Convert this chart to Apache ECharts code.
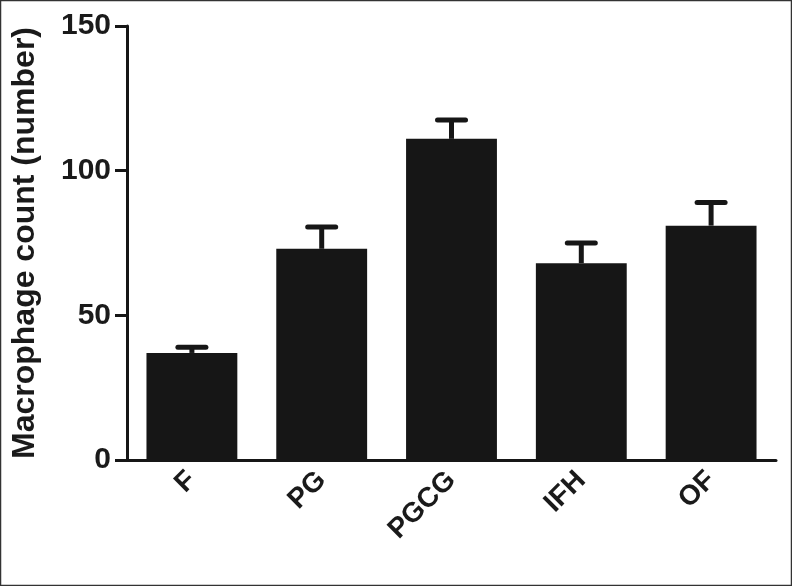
<!DOCTYPE html>
<html>
<head>
<meta charset="utf-8">
<script src="https://cdn.jsdelivr.net/npm/echarts@6/dist/echarts.min.js"></script>
<style>
  html, body { margin: 0; padding: 0; background: #fff; }
  #main { width: 792px; height: 586px; }
</style>
</head>
<body>
<div id="main"></div>
<script>
// groups on the x axis
var groups = ['F', 'PG', 'PGCG', 'IFH', 'OF'];
// mean macrophage count per group
var means = [37, 73, 111, 68, 81];
// upper error (SEM) per group
var errs = [2, 7.5, 6.5, 7, 8];
// y axis ticks
var yTicks = [0, 50, 100, 150];

var ink = '#161616';
var font = 'Liberation Sans, Arial, sans-serif';

var chart = echarts.init(document.getElementById('main'));

// error bar data: [index, mean, mean + err]
var errData = groups.map(function (g, i) {
  return [i, means[i], means[i] + errs[i]];
});

var option = {
  backgroundColor: '#fff',
  animation: false,
  grid: { left: 127, right: 16, top: 26, bottom: 126 },
  // thin frame round the whole picture
  graphic: [{
    type: 'rect',
    shape: { x: 0.5, y: 0.5, width: 791, height: 585 },
    style: { fill: 'none', stroke: '#333', lineWidth: 1.5 },
    silent: true
  }],
  xAxis: {
    type: 'category',
    data: groups,
    axisLine: { lineStyle: { color: ink, width: 3 } },
    axisTick: { alignWithLabel: true, length: 12, lineStyle: { color: ink, width: 3 } },
    axisLabel: {
      rotate: 45, margin: 16, color: '#1a1a1a',
      fontFamily: font, fontWeight: 'bold', fontSize: 28
    }
  },
  yAxis: {
    type: 'value',
    min: yTicks[0],
    max: yTicks[yTicks.length - 1],
    interval: 50,
    name: 'Macrophage count (number)',
    nameLocation: 'middle',
    nameGap: 86,
    nameTextStyle: { color: '#1a1a1a', fontFamily: font, fontWeight: 'bold', fontSize: 32 },
    splitLine: { show: false },
    axisLine: { show: true, lineStyle: { color: ink, width: 3 } },
    axisTick: { show: true, length: 12, lineStyle: { color: ink, width: 3 } },
    axisLabel: {
      margin: 16, color: '#1a1a1a',
      fontFamily: font, fontWeight: 'bold', fontSize: 30
    }
  },
  series: [
    {
      type: 'bar',
      data: means,
      barWidth: '70%',
      itemStyle: { color: ink },
      z: 2
    },
    {
      type: 'custom',
      data: errData,
      z: 3,
      renderItem: function (params, api) {
        var x = api.value(0);
        var base = api.coord([x, api.value(1)]);
        var top = api.coord([x, api.value(2)]);
        var half = 14;
        return {
          type: 'group',
          children: [
            {
              type: 'line',
              shape: { x1: base[0], y1: base[1], x2: top[0], y2: top[1] },
              style: { stroke: ink, lineWidth: 5 }
            },
            {
              type: 'line',
              shape: { x1: top[0] - half, y1: top[1], x2: top[0] + half, y2: top[1] },
              style: { stroke: ink, lineWidth: 5, lineCap: 'round' }
            }
          ]
        };
      }
    }
  ]
};

chart.setOption(option);
</script>
</body>
</html>
